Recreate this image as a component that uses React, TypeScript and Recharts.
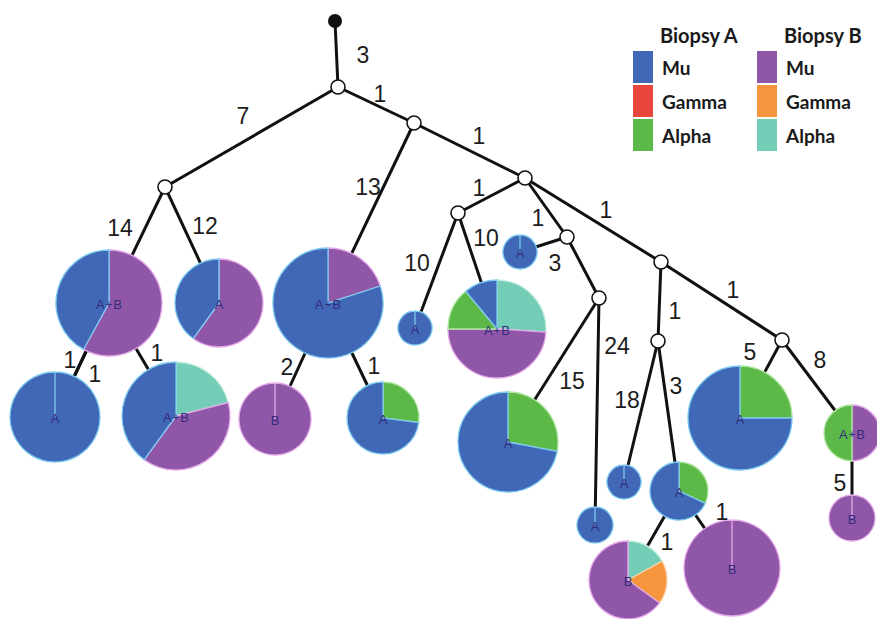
import React from "react";
import { ScatterChart, Scatter, XAxis, YAxis, ReferenceLine, Sector } from "recharts";

// Clone tree: branches carry mutation counts, leaves are pies of cell subtypes
// per biopsy. Slices run clockwise from 12 o'clock in SUBTYPES order.

const W = 877;
const H = 619;

const SUBTYPES = ["Alpha B", "Gamma B", "Mu B", "Alpha A", "Gamma A", "Mu A"];
const SUBTYPE_FILL = ["#74cdb6", "#f5963e", "#9057a8", "#5cb948", "#e8453c", "#4068b6"];
const SUBTYPE_RIM = ["#c8eee2", "#fbd2a6", "#e4a8e8", "#aee6a0", "#f6a49e", "#7ccaf0"];

const legendGroups = ["Biopsy A", "Biopsy B"];
const legendTypes = ["Mu", "Gamma", "Alpha"];
const legendFillA = ["#4068b6", "#e8453c", "#5cb948"];
const legendFillB = ["#9057a8", "#f5963e", "#74cdb6"];

// clone composition in percent
const cloneIds = ["c1", "c2", "c3", "c4", "c5", "c6", "c7", "c8", "c9", "c10", "c11", "c12", "c13", "c14", "c15", "c16", "c17", "c18", "c19"];
const cloneLabels = ["A+B", "A", "A+B", "A", "A+B", "A", "A", "A", "A", "A", "B", "B", "A", "A+B", "B", "A", "A+B", "B", "A"];
const alphaB = [0, 0, 0, 0, 26, 0, 0, 0, 0, 0, 17, 0, 0, 0, 0, 0, 21, 0, 0];
const gammaB = [0, 0, 0, 0, 0, 0, 0, 0, 0, 0, 18, 0, 0, 0, 0, 0, 0, 0, 0];
const muB = [58, 60, 20, 0, 49, 0, 0, 0, 0, 0, 65, 100, 0, 50, 100, 0, 39, 100, 0];
const alphaA = [0, 0, 0, 0, 14, 0, 28, 0, 0, 32, 0, 0, 25, 50, 0, 0, 0, 0, 27];
const gammaA = [0, 0, 0, 0, 0, 0, 0, 0, 0, 0, 0, 0, 0, 0, 0, 0, 0, 0, 0];
const muA = [42, 40, 80, 100, 11, 100, 72, 100, 100, 68, 0, 0, 75, 0, 0, 100, 40, 0, 73];

// branches: parent, child, mutations
const branchFrom = ["root", "n1", "n1", "n2", "n2", "nL", "nL", "c1", "c1", "c1", "c3", "c3", "n3", "n4", "n4", "n3", "n5", "n5", "n6", "n6", "n3", "n7", "n8", "n8", "c10", "c10", "n7", "n9", "n9", "c14"];
const branchTo = ["n1", "nL", "n2", "c3", "n3", "c1", "c2", "c16", "c16", "c17", "c18", "c19", "n4", "c4", "c5", "n5", "c6", "n6", "c7", "c8", "n7", "n8", "c9", "c10", "c11", "c12", "n9", "c13", "c14", "c15"];
const branchMutations = [3, 7, 1, 13, 1, 14, 12, 1, 1, 1, 2, 1, 1, 10, 10, 1, 3, null, 15, 24, 1, 1, 18, 3, 1, 1, 1, 5, 8, 5];

// layout: where things sit on the page
const nodeAt: Record<string, [number, number]> = {
  root: [335, 21], n1: [338, 87], n2: [414, 123], n3: [525, 178], nL: [165, 187],
  n4: [458, 213], n5: [567, 237], n6: [599, 298], n7: [661, 262], n8: [658, 341], n9: [782, 340],
  c1: [109, 303], c2: [219, 303], c3: [328, 303], c4: [415, 328], c5: [497, 329],
  c6: [520, 252], c7: [508, 442], c8: [595, 525], c9: [624, 482], c10: [679, 491],
  c11: [628, 580], c12: [732, 568], c13: [740, 418], c14: [852, 433], c15: [852, 518],
  c16: [55, 417], c17: [176, 416], c18: [275, 419], c19: [383, 418],
};
const cloneRadius = [53, 44, 55, 17, 49, 17, 50, 18, 17, 29, 39, 48, 52, 28, 23, 45, 54, 36, 36];
const branchLabelAt: [number, number][] = [
  [363, 55], [243, 116], [380, 94], [368, 187], [479, 136], [120, 228], [205, 226],
  [70, 360], [95, 374], [157, 353], [287, 367], [374, 366], [479, 188], [417, 263],
  [486, 238], [538, 218], [555, 263], [0, 0], [572, 381], [617, 346], [606, 210],
  [675, 311], [627, 400], [676, 386], [667, 542], [722, 512], [733, 290], [750, 352],
  [820, 360], [840, 483],
];

const innerNodes = ["n1", "n2", "n3", "nL", "n4", "n5", "n6", "n7", "n8", "n9"];

const cloneData = cloneIds.map((id, i) => ({
  x: nodeAt[id][0],
  y: nodeAt[id][1],
  r: cloneRadius[i],
  label: cloneLabels[i],
  values: [alphaB[i], gammaB[i], muB[i], alphaA[i], gammaA[i], muA[i]],
}));

const nodeData = innerNodes.map((id) => ({ x: nodeAt[id][0], y: nodeAt[id][1] }));
const rootData = [{ x: nodeAt.root[0], y: nodeAt.root[1] }];

const labelData = branchMutations
  .map((m, i) => ({ x: branchLabelAt[i][0], y: branchLabelAt[i][1], m }))
  .filter((d) => d.m != null);

const ClonePie = (props: any) => {
  const { cx, cy, payload } = props;
  const total = payload.values.reduce((s: number, v: number) => s + v, 0);
  let acc = 0;
  const slices: React.ReactNode[] = [];
  payload.values.forEach((v: number, k: number) => {
    if (!v) return;
    const a0 = (acc / total) * 360;
    acc += v;
    const a1 = (acc / total) * 360;
    slices.push(
      <Sector
        key={SUBTYPES[k]}
        cx={cx}
        cy={cy}
        innerRadius={0}
        outerRadius={payload.r}
        startAngle={90 - a0}
        endAngle={90 - a1}
        fill={SUBTYPE_FILL[k]}
        stroke={SUBTYPE_RIM[k]}
        strokeWidth={1.3}
      />
    );
  });
  const parts = payload.label.split("+");
  return (
    <g>
      {slices}
      <text
        x={cx}
        y={cy + 1}
        textAnchor="middle"
        dominantBaseline="central"
        fontFamily="Liberation Sans, Arial, sans-serif"
        fontSize={13}
        fill="#342c7c"
      >
        {parts.length > 1 ? (
          <>
            <tspan>{parts[0]}</tspan>
            <tspan fontSize={11} dx={1}>+</tspan>
            <tspan dx={1}>{parts[1]}</tspan>
          </>
        ) : (
          payload.label
        )}
      </text>
    </g>
  );
};

const OpenNode = (props: any) => (
  <circle cx={props.cx} cy={props.cy} r={7} fill="#fff" stroke="#111" strokeWidth={1.6} />
);

const RootNode = (props: any) => <circle cx={props.cx} cy={props.cy} r={7} fill="#111" />;

const BranchLabel = (props: any) => (
  <text
    x={props.cx}
    y={props.cy}
    textAnchor="middle"
    dominantBaseline="central"
    fontFamily="Liberation Sans, Arial, sans-serif"
    fontSize={23}
    fill="#1c1c1c"
  >
    {props.payload.m}
  </text>
);

function LegendBlock() {
  const cols = [legendFillA, legendFillB];
  return (
    <div style={{ position: "absolute", left: 633, top: 20, display: "flex", gap: 12, fontFamily: "Lato, 'Open Sans', sans-serif", fontWeight: 700, color: "#1a1a1a" }}>
      {legendGroups.map((g, gi) => (
        <div key={g} style={{ width: 112 }}>
          <div style={{ fontSize: 20, marginLeft: 27, height: 30, lineHeight: "30px" }}>{g}</div>
          {legendTypes.map((t, ti) => (
            <div key={t} style={{ display: "flex", alignItems: "center", height: 34 }}>
              <div style={{ width: 20, height: 32, background: cols[gi][ti], marginRight: 9 }} />
              <span style={{ fontSize: 19 }}>{t}</span>
            </div>
          ))}
        </div>
      ))}
    </div>
  );
}

export default function App() {
  return (
    <div style={{ position: "relative", width: W, height: H, background: "#fff" }}>
      <style>{"body{margin:0}"}</style>
      <ScatterChart width={W} height={H} margin={{ top: 0, right: 0, bottom: 0, left: 0 }}>
        <XAxis type="number" dataKey="x" domain={[0, W]} hide />
        <YAxis type="number" dataKey="y" domain={[0, H]} reversed hide />
        {branchFrom.map((f, i) => (
          <ReferenceLine
            key={`b${i}`}
            segment={[
              { x: nodeAt[f][0], y: nodeAt[f][1] },
              { x: nodeAt[branchTo[i]][0], y: nodeAt[branchTo[i]][1] },
            ]}
            stroke="#111"
            strokeWidth={3}
            ifOverflow="visible"
          />
        ))}
        <Scatter data={cloneData} shape={ClonePie} isAnimationActive={false} />
        <Scatter data={nodeData} shape={OpenNode} isAnimationActive={false} />
        <Scatter data={rootData} shape={RootNode} isAnimationActive={false} />
        <Scatter data={labelData} shape={BranchLabel} isAnimationActive={false} />
      </ScatterChart>
      <LegendBlock />
    </div>
  );
}
